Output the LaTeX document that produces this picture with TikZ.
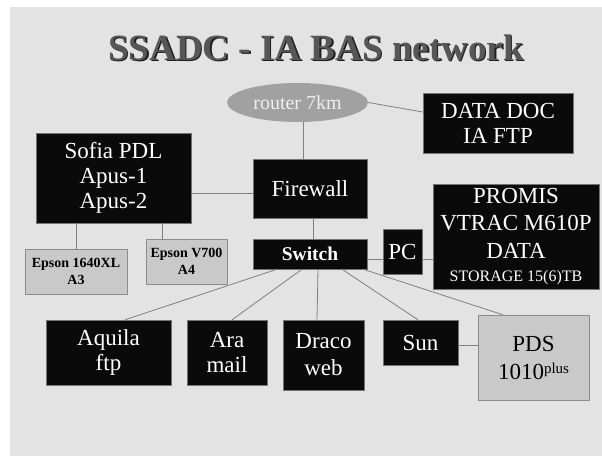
\documentclass[tikz,border=0pt]{standalone}
\usepackage{fontspec}
\setmainfont{Liberation Serif}
\usepackage{xcolor}
\usepackage{tikz}
\usetikzlibrary{shapes,arrows}
\definecolor{panel}{HTML}{E3E3E3}
\tikzstyle{block} = [rectangle, draw=black!55, fill=black!96, text=white,
    align=center, inner sep=0pt, font=\fontsize{23}{25}\selectfont]
\tikzstyle{greyblock} = [rectangle, draw=black!45, fill=black!21, text=black,
    align=center, inner sep=0pt, font=\bfseries\fontsize{14}{17}\selectfont]
\tikzstyle{cloud} = [ellipse, fill=black!37, text=white!94!black, inner sep=0pt,
    minimum width=141pt, minimum height=39pt, font=\fontsize{20}{22}\selectfont]
\tikzstyle{line} = [draw, black!50, line width=0.8pt]
\tikzstyle{heading} = [anchor=base, font=\bfseries\fontsize{37}{40}\selectfont]

\begin{document}
\begin{tikzpicture}[x=1pt, y=-1pt, node distance=2cm]
	% Background
	\useasboundingbox (0,0) rectangle (602,456);
	\fill [white] (0,0) rectangle (602,456);
	\fill [panel] (10,7) rectangle (602,456);
	\node [heading, text=black!88] (titleshadow) at (317.5,61.5) {SSADC - IA BAS network};
	\node [heading, text=black!66] (title) at (316,60) {SSADC - IA BAS network};

	% Place nodes
	\node [block, minimum width=114pt, minimum height=59pt] (firewall) at (310,188.5) {Firewall};
	\node [block, minimum width=114pt, minimum height=30pt, font=\bfseries\fontsize{19.5}{22}\selectfont, below of=firewall, node distance=65.5pt] (switch) {Switch};
	\node [cloud, above of=firewall, node distance=86pt, xshift=-12.5pt] (router) {router 7km};
	\node [block, minimum width=150pt, minimum height=60pt, right of=router, node distance=200.5pt, yshift=-20.5pt] (datadoc) {DATA DOC\\IA FTP};
	\node [block, minimum width=155pt, minimum height=90pt, left of=firewall, node distance=196.5pt, yshift=10.5pt] (sofia) {Sofia PDL\\Apus-1\\Apus-2};
	\node [greyblock, minimum width=102pt, minimum height=45pt, below of=sofia, node distance=93.5pt, xshift=-37.5pt] (epsonA) {Epson 1640XL\\A3};
	\node [greyblock, minimum width=81pt, minimum height=45pt, below of=sofia, node distance=83.5pt, xshift=73pt] (epsonB) {Epson V700\\A4};
	\node [block, minimum width=39pt, minimum height=45pt, right of=switch, node distance=92.5pt, yshift=2.5pt] (pc) {PC};
	\node [block, minimum width=166pt, minimum height=105pt, font=\fontsize{23}{27.5}\selectfont, right of=pc, node distance=113.5pt, yshift=15pt] (promis) {PROMIS\\VTRAC M610P\\DATA\\[-4.5pt]{\fontsize{16}{18}\selectfont STORAGE 15(6)TB}};

	\node [block, minimum width=81pt, minimum height=70pt, font=\fontsize{23}{27}\selectfont, below of=switch, node distance=101pt, xshift=13.5pt] (draco) {Draco\\web};
	\node [block, minimum width=80pt, minimum height=65pt, left of=draco, node distance=96.5pt, yshift=2.5pt] (ara) {Ara\\mail};
	\node [block, minimum width=125pt, minimum height=65pt, left of=ara, node distance=118.5pt] (aquila) {Aquila\\ftp};
	\node [block, minimum width=75pt, minimum height=45pt, right of=draco, node distance=97pt, yshift=12.5pt] (sun) {Sun};
	\node [greyblock, minimum width=111pt, minimum height=85pt, font=\fontsize{23}{28}\selectfont, right of=sun, node distance=113pt, yshift=-15pt] (pds) {PDS\\1010\raisebox{6pt}{\fontsize{15}{15}\selectfont plus}};

	\path [line] (router.east) -- ([yshift=11pt]datadoc.west);
	\path [line] ([xshift=-7pt]firewall.north) -- ([xshift=-7pt]firewall.north |- router.south);
	\path [line] ([yshift=-4.5pt]firewall.west) -- ([yshift=-4.5pt]firewall.west -| sofia.east);
	\path [line] ([xshift=3pt]firewall.south) -- ([xshift=3pt]switch.north);
	\path [line] (epsonA.north) -- (epsonA.north |- sofia.south);
	\path [line] ([xshift=-24.5pt]epsonB.north) -- ([xshift=-24.5pt]epsonB.north |- sofia.south);
	\path [line] ([yshift=-5pt]switch.east) -- ([yshift=-5pt]switch.east -| pc.west);
	\path [line] ([yshift=-5pt]switch.east -| pc.east) -- ([yshift=-5pt]switch.east -| promis.west);
	\foreach \target/\from/\to in {aquila/-33/16.5, ara/-8/5, draco/8/-6.5, sun/32/-2.5, pds/53/-30.5}
		\path [line] ([xshift=\from pt]switch.south) -- ([xshift=\to pt]\target.north);
	\path [line] ([yshift=-2.5pt]sun.east) -- ([yshift=-2.5pt]sun.east -| pds.west);
\end{tikzpicture}
\end{document}
